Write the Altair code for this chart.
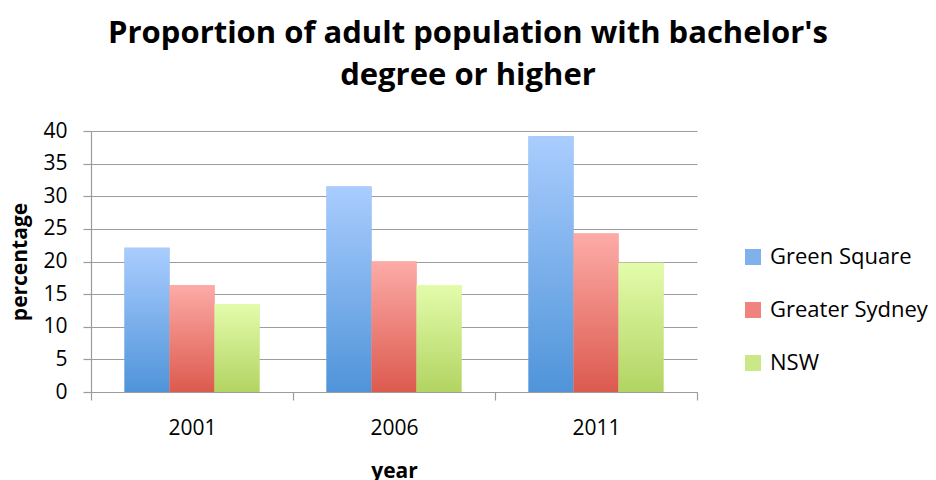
import altair as alt
import pandas as pd

years = ["2001", "2006", "2011"]
series = ["Green Square", "Greater Sydney", "NSW"]
green_square = [22.1, 31.5, 39.2]
greater_sydney = [16.4, 20.0, 24.3]
nsw = [13.5, 16.4, 19.8]

# bar gradient colours per series: light top, darker bottom
tops = ["#aacdfe", "#fdaba7", "#e3fcab"]
bottoms = ["#4f94d9", "#dc5a4e", "#b2d462"]
mids = ["#80b1ec", "#ee847c", "#cbe888"]

rows = []
for name, vals in zip(series, [green_square, greater_sydney, nsw]):
    for yr, v in zip(years, vals):
        rows.append({"year": yr, "series": name, "value": v})
df = pd.DataFrame(rows)

FONT = "Open Sans"
GRID = "#9c9c9c"

base = alt.Chart(df).encode(
    x=alt.X(
        "year:N",
        sort=years,
        scale=alt.Scale(paddingInner=0, paddingOuter=0),
        axis=alt.Axis(
            title="year",
            labelAngle=0,
            tickBand="extent",
            tickSize=8,
            labelPadding=17,
            titleY=85,
            titleBaseline="alphabetic",
        ),
    ),
    # bars in each year group fill the middle two-thirds of the band
    xOffset=alt.XOffset(
        "series:N",
        sort=series,
        scale=alt.Scale(domain=series, paddingInner=0, paddingOuter=0.744),
    ),
    y=alt.Y(
        "value:Q",
        scale=alt.Scale(domain=[0, 40], nice=False),
        axis=alt.Axis(
            title="percentage",
            values=list(range(0, 45, 5)),
            tickSize=8,
            labelPadding=16,
            grid=True,
            titleX=-71,
            titleBaseline="middle",
        ),
    ),
)

legend_layer = base.mark_bar().encode(
    color=alt.Color(
        "series:N",
        sort=series,
        scale=alt.Scale(domain=series, range=mids),
        legend=alt.Legend(
            title=None,
            orient="none",
            legendX=651,
            legendY=115,
            symbolType="square",
            symbolSize=256,
            symbolStrokeWidth=0,
            labelOffset=6,
            rowPadding=31,
            labelFontSize=22,
            labelFont=FONT,
            labelColor="#000000",
            padding=0,
        ),
    )
)

grad_layers = []
for name, top, bottom in zip(series, tops, bottoms):
    grad_layers.append(
        base.mark_bar(
            color=alt.Gradient(
                gradient="linear",
                stops=[
                    alt.GradientStop(color=top, offset=0),
                    alt.GradientStop(color=bottom, offset=1),
                ],
                x1=0, x2=0, y1=0, y2=1,
            )
        ).transform_filter(alt.datum.series == name)
    )

chart = (
    alt.layer(legend_layer, *grad_layers)
    .properties(
        width=606,
        height=261,
        title=alt.Title(
            ["Proportion of adult population with bachelor's", "degree or higher"],
            font=FONT,
            fontSize=31,
            fontWeight="bold",
            lineHeight=42,
            color="#000000",
            anchor="middle",
            dx=74,
            offset=28,
        ),
        autosize=alt.AutoSizeParams(type="none"),
        padding={"left": 91, "top": 131, "right": 239, "bottom": 88},
    )
    .configure_view(stroke=None)
    .configure_axis(
        labelFont=FONT,
        labelFontSize=21,
        labelColor="#000000",
        titleFont=FONT,
        titleFontSize=21,
        titleFontWeight="bold",
        titleColor="#000000",
        domainColor=GRID,
        domainWidth=1.2,
        tickColor=GRID,
        tickWidth=1.2,
        gridColor=GRID,
        gridWidth=1.2,
    )
)

chart.save("out.html", embed_options={"renderer": "svg", "actions": False})
